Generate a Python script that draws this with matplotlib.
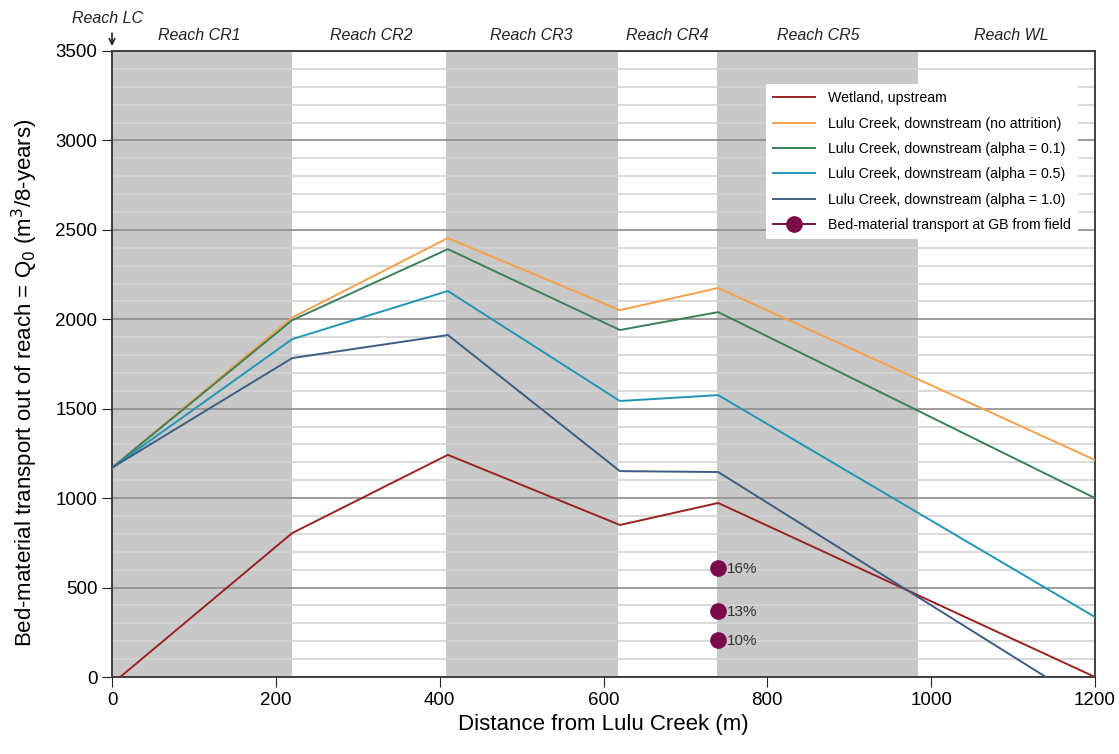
import matplotlib.pyplot as plt
from matplotlib.ticker import MultipleLocator

plt.rcParams['font.family'] = ['Liberation Sans', 'DejaVu Sans']

# reach breaks (m) and shaded reaches
shaded = [(0, 220), (408, 618), (739, 984)]
reach_names = ['Reach CR1', 'Reach CR2', 'Reach CR3', 'Reach CR4', 'Reach CR5', 'Reach WL']
reach_centres = [107, 317, 512, 678, 862, 1098]

dist = [0, 220, 410, 620, 740, 1200]
wetland_x = [10, 220, 410, 620, 740, 1200]
wetland = [0, 805, 1242, 850, 973, 0]
no_attr = [1170, 2010, 2454, 2051, 2175, 1213]
alpha01 = [1170, 1995, 2392, 1940, 2040, 1000]
alpha05 = [1170, 1889, 2158, 1543, 1576, 335]
alpha10_x = [0, 220, 410, 620, 740, 1140]
alpha10 = [1170, 1783, 1912, 1151, 1146, 0]

field_x = [740, 740, 740]
field_q = [609, 369, 207]
field_pct = ['16%', '13%', '10%']

fig = plt.figure(figsize=(11.19, 7.54), dpi=100)
ax = fig.add_axes([0.1001, 0.1021, 0.8785, 0.8303])

for a, b in shaded:
    ax.axvspan(a, b, color='#c8c8c8', lw=0, zorder=0)

ax.yaxis.set_major_locator(MultipleLocator(500))
ax.yaxis.set_minor_locator(MultipleLocator(100))
ax.grid(axis='y', which='minor', color='#d4d4d4', lw=1.2, zorder=1)
ax.grid(axis='y', which='major', color='#8c8c8c', lw=1.2, zorder=1)

ax.plot(wetland_x, wetland, color='#992222', lw=1.4, label='Wetland, upstream', zorder=3)
ax.plot(dist, no_attr, color='#f5a04a', lw=1.4, label='Lulu Creek, downstream (no attrition)', zorder=3)
ax.plot(dist, alpha01, color='#3a8058', lw=1.4, label='Lulu Creek, downstream (alpha = 0.1)', zorder=3)
ax.plot(dist, alpha05, color='#2196b4', lw=1.4, label='Lulu Creek, downstream (alpha = 0.5)', zorder=3)
ax.plot(alpha10_x, alpha10, color='#3c5d82', lw=1.4, label='Lulu Creek, downstream (alpha = 1.0)', zorder=3)
ax.plot(field_x, field_q, color='#7a0a48', lw=1.4, ls='none', marker='o', ms=11,
        label='Bed-material transport at GB from field', zorder=4)
for x, q, t in zip(field_x, field_q, field_pct):
    ax.text(x + 10, q - 5, t, fontsize=11, color='#333333', va='center', zorder=5)

ax.set_xlim(0, 1200)
ax.set_ylim(0, 3500)
ax.set_xticks(range(0, 1201, 200))
ax.tick_params(axis='both', which='major', labelsize=13.5, length=7, direction='out', color='#222222')
ax.tick_params(axis='y', which='minor', length=0)
for s in ax.spines.values():
    s.set_color('#333333')
    s.set_linewidth(1.3)

ax.set_xlabel('Distance from Lulu Creek (m)', fontsize=16)
ax.set_ylabel('Bed-material transport out of reach = Q$_0$ (m$^3$/8-years)', fontsize=16)
ax.yaxis.set_label_coords(-0.073, 0.47)

for name, xc in zip(reach_names, reach_centres):
    ax.text(xc, 3545, name, fontsize=11.5, style='italic', ha='center', va='bottom', color='#222222')
ax.text(-5, 3680, 'Reach LC', fontsize=11.5, style='italic', ha='center', va='center',
        color='#222222', clip_on=False)
ax.annotate('', xy=(0, 3512), xytext=(0, 3615), annotation_clip=False,
            arrowprops=dict(arrowstyle='->', color='#222222', lw=1.2))

leg = ax.legend(loc='upper right', bbox_to_anchor=(0.99, 0.958), fontsize=10.2, frameon=True,
                fancybox=False, edgecolor='none', facecolor='white', framealpha=1,
                handlelength=3.0, handletextpad=0.9, labelspacing=0.8, borderpad=0.5)
leg.get_frame().set_linewidth(0)
leg.set_zorder(6)
# field marker in legend drawn with a line through it
leg.legend_handles[-1].set_linestyle('-')

fig.savefig('out.png', dpi=100)
